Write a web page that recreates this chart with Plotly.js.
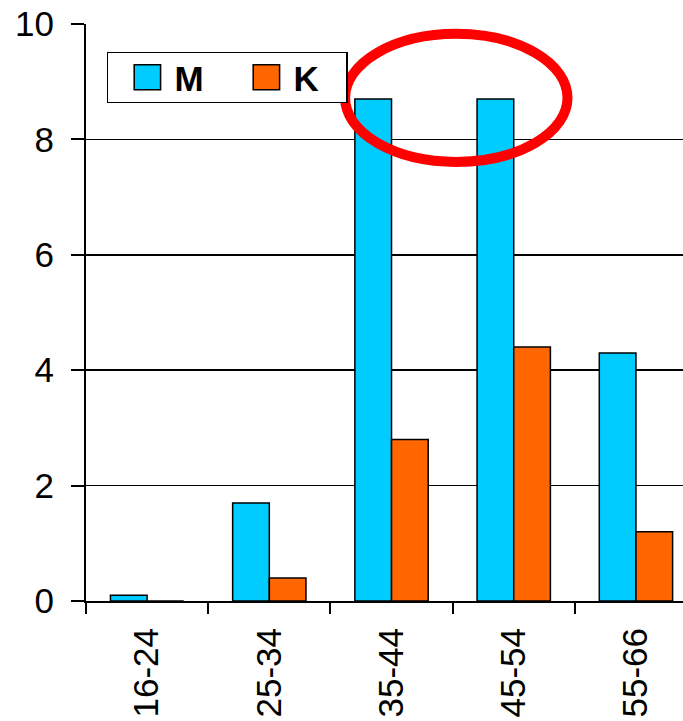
<!DOCTYPE html>
<html>
<head>
<meta charset="utf-8">
<script src="https://cdn.plot.ly/plotly-3.0.1.min.js"></script>
<style>
html,body{margin:0;padding:0;background:#fff;}
#chart{width:683px;height:721px;}
</style>
</head>
<body>
<div id="chart"></div>
<script>
const categories = ["16-24", "25-34", "35-44", "45-54", "55-66"];
const seriesM = [0.1, 1.7, 8.7, 8.7, 4.3];
const seriesK = [0, 0.4, 2.8, 4.4, 1.2];
const yTicks = [0, 2, 4, 6, 8, 10];

const FONT = "Liberation Sans, Arial, sans-serif";

const traces = [
  {type: "bar", name: "M", x: categories, y: seriesM,
   marker: {color: "#00CCFF", line: {color: "#000", width: 1.5}}},
  {type: "bar", name: "K", x: categories, y: seriesK,
   marker: {color: "#FF6600", line: {color: "#000", width: 1.5}}}
];

const layout = {
  width: 683, height: 721,
  margin: {l: 86, r: 0, t: 24, b: 120, pad: 0},
  paper_bgcolor: "#fff", plot_bgcolor: "#fff",
  font: {family: FONT, color: "#000", size: 35},
  barmode: "group", bargap: 0.40, bargroupgap: 0,
  showlegend: true,
  legend: {
    orientation: "h", x: 0.035, y: 0.961, xanchor: "left", yanchor: "top",
    bgcolor: "#fff", bordercolor: "#000", borderwidth: 1.5,
    font: {family: FONT, size: 35, weight: "bold", color: "#000"},
    itemwidth: 56,
    entrywidth: 48, entrywidthmode: "pixels", traceorder: "normal"
  },
  xaxis: {
    type: "category", range: [-0.5, 4.385],
    tickson: "boundaries", ticks: "outside", ticklen: 11, tickwidth: 2, tickcolor: "#000",
    showline: true, linecolor: "#000", linewidth: 2,
    showgrid: false, zeroline: false,
    tickangle: -90, tickfont: {family: FONT, size: 35, color: "#000"},
    ticklabelstandoff: 11
  },
  yaxis: {
    range: [0, 10], tickvals: yTicks, ticktext: yTicks.map(String),
    ticks: "outside", ticklen: 13, tickwidth: 2, tickcolor: "#000",
    showline: true, linecolor: "#000", linewidth: 2,
    showgrid: true, gridcolor: "#000", gridwidth: 1.5,
    zeroline: false,
    tickfont: {family: FONT, size: 35, color: "#000"},
    ticklabelstandoff: 10
  },
  shapes: [
    {type: "circle", xref: "x", yref: "y", x0: 1.62, x1: 3.44, y0: 7.61, y1: 9.83,
     line: {color: "#FF0000", width: 10}, layer: "above"}
  ]
};

Plotly.newPlot("chart", traces, layout, {displayModeBar: false, staticPlot: true}).then(function(gd){
  gd.querySelectorAll(".legendpoints path").forEach(function(p){
    const t = p.getAttribute("transform") || "";
    p.setAttribute("transform", t + " translate(6,0) scale(2.2,2.1)");
    p.style.strokeWidth = "0.7px";
  });
  const bg = gd.querySelector(".legend rect.bg");
  if (bg) {
    const h = parseFloat(bg.getAttribute("height"));
    const targetH = 50;
    if (h > targetH) {
      const d = (h - targetH) / 2;
      const y0 = parseFloat(bg.getAttribute("y") || "0");
      bg.setAttribute("y", y0 + d);
      bg.setAttribute("height", targetH);
    }
  }
});
</script>
</body>
</html>
